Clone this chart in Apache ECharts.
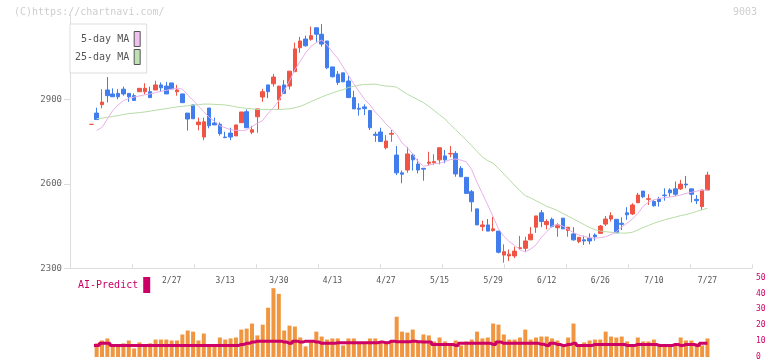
<!DOCTYPE html>
<html>
<head>
<meta charset="utf-8">
<script src="https://cdn.jsdelivr.net/npm/echarts@6/dist/echarts.min.js"></script>
<style>
  html, body { margin: 0; padding: 0; background: #fff; }
  #main { width: 772px; height: 361px; }
</style>
</head>
<body>
<div id="main"></div>
<script>
// daily prices (index 0 = first candle)
const opens = [2811, 2851, 2881, 2933, 2919, 2921, 2936, 2921, 2913, 2927, 2927, 2927, 2933, 2951, 2947, 2958, 2927, 2919, 2851, 2880,
  2810, 2766, 2869, 2816, 2811, 2766, 2780, 2770, 2817, 2856, 2783, 2838, 2908, 2951, 2955, 2898, 2951, 2947, 2998, 3083,
  3114, 3113, 3154, 3131, 3107, 3015, 2989, 2994, 2965, 2906, 2868, 2873, 2860, 2776, 2784, 2728, 2776, 2702, 2639, 2649,
  2702, 2670, 2655, 2673, 2675, 2685, 2699, 2706, 2708, 2655, 2623, 2572, 2511, 2448, 2454, 2434, 2432, 2347, 2344, 2344,
  2370, 2371, 2401, 2446, 2497, 2455, 2474, 2444, 2478, 2434, 2422, 2395, 2401, 2407, 2418, 2424, 2457, 2475, 2474, 2460,
  2497, 2493, 2533, 2574, 2545, 2537, 2546, 2560, 2578, 2582, 2582, 2599, 2582, 2545, 2519, 2578];
const closes = [2811, 2828, 2890, 2913, 2909, 2909, 2919, 2909, 2896, 2939, 2939, 2906, 2951, 2941, 2919, 2937, 2933, 2888, 2830, 2831,
  2819, 2820, 2806, 2809, 2778, 2764, 2766, 2809, 2855, 2799, 2792, 2866, 2927, 2927, 2979, 2947, 2921, 3000, 3079, 3107,
  3090, 3126, 3131, 3096, 3012, 2980, 2960, 2962, 2906, 2866, 2865, 2867, 2799, 2772, 2750, 2752, 2779, 2639, 2634, 2706,
  2685, 2649, 2652, 2677, 2679, 2728, 2685, 2708, 2635, 2625, 2566, 2536, 2454, 2454, 2432, 2440, 2357, 2359, 2350, 2361,
  2373, 2397, 2421, 2486, 2466, 2466, 2448, 2454, 2440, 2446, 2401, 2410, 2397, 2397, 2412, 2450, 2475, 2487, 2426, 2456,
  2490, 2525, 2560, 2554, 2547, 2522, 2537, 2558, 2568, 2563, 2599, 2596, 2563, 2540, 2578, 2631];
const lows = [2811, 2828, 2868, 2889, 2909, 2900, 2913, 2891, 2896, 2927, 2918, 2906, 2933, 2927, 2919, 2937, 2913, 2888, 2789, 2831,
  2790, 2755, 2797, 2809, 2771, 2762, 2755, 2770, 2817, 2799, 2776, 2781, 2891, 2904, 2945, 2864, 2921, 2935, 2998, 3065,
  3087, 3108, 3104, 3087, 3007, 2978, 2951, 2962, 2906, 2866, 2842, 2844, 2791, 2749, 2750, 2722, 2749, 2631, 2602, 2639,
  2647, 2637, 2611, 2664, 2667, 2669, 2673, 2694, 2625, 2625, 2566, 2501, 2454, 2432, 2432, 2430, 2353, 2320, 2326, 2336,
  2365, 2359, 2401, 2426, 2446, 2438, 2445, 2412, 2440, 2412, 2398, 2389, 2383, 2385, 2398, 2424, 2450, 2466, 2426, 2436,
  2472, 2489, 2531, 2549, 2525, 2519, 2519, 2540, 2554, 2557, 2578, 2584, 2534, 2528, 2507, 2578];
const highs = [2811, 2870, 2936, 2979, 2939, 2936, 2945, 2921, 2921, 2939, 2957, 2945, 2966, 2960, 2962, 2958, 2951, 2919, 2851, 2880,
  2835, 2835, 2869, 2835, 2818, 2785, 2799, 2809, 2855, 2864, 2806, 2866, 2937, 2951, 2990, 2947, 2968, 3000, 3101, 3122,
  3126, 3158, 3154, 3167, 3107, 3015, 3000, 2994, 2984, 2930, 2886, 2882, 2860, 2785, 2799, 2773, 2791, 2734, 2647, 2730,
  2708, 2687, 2655, 2714, 2705, 2728, 2720, 2734, 2716, 2663, 2623, 2578, 2511, 2469, 2475, 2483, 2432, 2385, 2367, 2377,
  2415, 2412, 2446, 2486, 2507, 2474, 2480, 2460, 2478, 2446, 2446, 2410, 2416, 2424, 2424, 2454, 2486, 2499, 2474, 2481,
  2517, 2531, 2568, 2574, 2563, 2543, 2554, 2584, 2584, 2608, 2614, 2628, 2582, 2560, 2578, 2643];

// moving averages as drawn (they start on the second candle)
const ma5 = [null, 2790, 2800, 2830, 2860, 2880, 2895, 2903, 2908, 2912, 2916, 2919, 2924, 2928, 2932, 2936, 2939, 2936, 2915, 2897,
  2876, 2856, 2836, 2822, 2806, 2799, 2792, 2790, 2789, 2791, 2803, 2815, 2825, 2850, 2870, 2895, 2930, 2965, 3005, 3035,
  3065, 3088, 3101, 3110, 3093, 3068, 3045, 3015, 2985, 2955, 2927, 2900, 2880, 2855, 2835, 2812, 2795, 2775, 2745, 2728,
  2705, 2678, 2663, 2665, 2672, 2673, 2678, 2686, 2688, 2684, 2678, 2650, 2605, 2565, 2525, 2483, 2440, 2414, 2395, 2382,
  2366, 2358, 2368, 2383, 2410, 2430, 2450, 2455, 2450, 2438, 2427, 2418, 2413, 2409, 2407, 2409, 2412, 2420, 2430, 2447,
  2460, 2475, 2495, 2520, 2535, 2543, 2548, 2551, 2553, 2556, 2560, 2566, 2570, 2574, 2577, 2578];
const ma25 = [null, 2831, 2833, 2836, 2839, 2842, 2846, 2849, 2851, 2853, 2855, 2858, 2861, 2864, 2867, 2870, 2873, 2875, 2877, 2879,
  2881, 2883, 2883, 2882, 2881, 2880, 2877, 2873, 2870, 2868, 2866, 2864, 2864, 2864, 2864, 2864, 2865, 2866, 2870, 2875,
  2883, 2892, 2900, 2908, 2916, 2922, 2929, 2934, 2942, 2946, 2950, 2953, 2953, 2954, 2950, 2947, 2946, 2943, 2930, 2918,
  2908, 2898, 2888, 2875, 2860, 2845, 2830, 2810, 2792, 2774, 2755, 2735, 2715, 2695, 2682, 2673, 2655, 2635, 2615, 2595,
  2575, 2558, 2550, 2540, 2530, 2520, 2513, 2505, 2495, 2485, 2475, 2465, 2455, 2445, 2437, 2432, 2430, 2428, 2426, 2425,
  2425, 2428, 2436, 2445, 2452, 2460, 2466, 2472, 2477, 2482, 2487, 2491, 2496, 2502, 2508, 2513];

// lower panel
const volumes = [null, 8.6, 10.4, 11.7, 7.3, 7.3, 8.6, 10.4, 5.4, 9.2, 7.3, 8.6, 11.0, 11.0, 11.0, 10.4, 10.4, 14.2, 16.7, 16.0,
  10.4, 14.8, 7.3, 7.3, 12.3, 11.0, 11.7, 12.3, 17.3, 17.9, 21.1, 13.6, 20.4, 31.1, 43.4, 39.8, 16.7, 19.8, 19.2, 12.3,
  6.7, 9.8, 16.0, 12.9, 11.0, 11.7, 11.7, 7.3, 11.7, 11.7, 8.6, 8.6, 11.7, 11.7, 9.8, 9.8, 10.4, 25.4, 16.0, 15.4,
  17.3, 9.8, 14.2, 13.6, 9.8, 12.3, 9.8, 8.6, 10.4, 7.3, 9.8, 11.0, 16.0, 11.7, 12.3, 21.1, 20.4, 14.2, 11.0, 11.0,
  12.3, 17.3, 11.0, 12.3, 12.9, 12.9, 11.7, 10.4, 8.0, 12.3, 21.1, 6.7, 9.2, 10.4, 11.0, 11.0, 16.0, 12.9, 12.3, 12.9,
  9.8, 7.3, 12.3, 9.8, 9.8, 11.0, 7.3, 7.3, 7.3, 8.0, 12.3, 10.4, 10.4, 8.6, 7.3, 11.7];
const aiPredict = [null, 7.3, 8.6, 8.6, 7.3, 7.3, 7.3, 7.3, 7.3, 7.3, 7.3, 7.3, 7.3, 7.3, 7.3, 7.3, 7.3, 7.3, 7.3, 7.3,
  7.3, 7.3, 7.3, 7.3, 7.3, 7.3, 7.3, 7.3, 7.9, 8.6, 9.4, 10.0, 10.0, 10.0, 10.0, 10.0, 9.4, 8.6, 10.0, 9.4,
  10.0, 10.0, 9.4, 8.6, 8.6, 8.6, 9.0, 9.0, 9.0, 9.0, 9.0, 9.0, 9.0, 9.0, 9.4, 9.0, 10.0, 9.6, 9.6, 9.6,
  10.0, 9.6, 9.4, 9.4, 7.9, 7.9, 7.9, 7.9, 7.3, 8.6, 8.6, 8.6, 8.6, 8.6, 8.6, 7.9, 9.4, 8.6, 8.6, 8.6,
  8.6, 8.6, 8.6, 8.6, 8.0, 7.3, 8.6, 7.9, 7.3, 7.9, 8.6, 7.3, 7.3, 7.3, 7.9, 7.9, 7.9, 7.9, 7.9, 7.9,
  7.3, 7.3, 7.9, 7.9, 7.9, 7.9, 7.3, 7.3, 7.3, 7.9, 7.3, 7.9, 7.9, 7.3, 8.6, 8.6];

// date labels under the price panel and the candle they sit under
const dateLabels = ['2/27', '3/13', '3/30', '4/13', '4/27', '5/15', '5/29', '6/12', '6/26', '7/10', '7/27'];
const dateIndex = [15, 25, 35, 45, 55, 65, 75, 85, 95, 105, 115];

const FONT = 'DejaVu Sans Mono';
const RED = '#f05444';
const BLUE = '#417ded';
const AI = '#cc0066';
const slotCount = 124; // 116 days + empty room on the right

const categories = [];
for (let i = 0; i < slotCount; i++) categories.push(String(i));
const candles = opens.map((o, i) => [o, closes[i], lows[i], highs[i]]);

const chart = echarts.init(document.getElementById('main'));
chart.setOption({
  animation : false,
  title     : [
    { text: '(C)https://chartnavi.com/', left: 14, top: 7, padding: 0,
      textStyle: { fontFamily: FONT, fontSize: 10, fontWeight: 'normal', color: '#cfcfcf' } },
    { text: '9003', right: 15, top: 7, padding: 0,
      textStyle: { fontFamily: FONT, fontSize: 10, fontWeight: 'normal', color: '#cfcfcf' } },
  ],
  legend: [
    {
      data         : ['5-day MA', '25-day MA'],
      left         : 70,
      top          : 24,
      orient       : 'vertical',
      align        : 'right',
      icon         : 'rect',
      itemWidth    : 6,
      itemHeight   : 15,
      itemGap      : 2,
      padding      : [7, 6, 8, 5],
      backgroundColor: '#fff',
      borderColor  : '#dddddd',
      borderWidth  : 1,
      selectedMode : false,
      itemStyle    : { borderColor: '#555', borderWidth: 1 },
      formatter    : (n) => '{t|' + n + '}',
      textStyle    : { rich: { t: { width: 56, align: 'right', fontFamily: FONT, fontSize: 10, color: '#555' } } },
    },
    {
      data         : ['AI-Predict'],
      left         : 78,
      top          : 277,
      align        : 'right',
      icon         : 'rect',
      itemWidth    : 7,
      itemHeight   : 16,
      padding      : 0,
      selectedMode : false,
      itemStyle    : { borderWidth: 0 },
      textStyle    : { fontFamily: FONT, fontSize: 10, color: AI },
    },
  ],
  grid: [
    { left: 70, right: 20, top: 14.8, bottom: 92.7 },
    { left: 88.6, right: 19, top: 14.8, bottom: 92.7 },
    { left: 88.6, right: 19, top: 277.7, bottom: 3.3 },
  ],
  xAxis: [
    {
      type      : 'value',
      gridIndex : 0,
      min       : 0,
      max       : 11,
      interval  : 1,
      axisLine  : { onZero: false, lineStyle: { color: '#dddddd' } },
      axisTick  : { inside: true, length: 4, lineStyle: { color: '#dddddd' } },
      axisLabel : { show: false },
      splitLine : { show: false },
    },
    {
      type        : 'category',
      gridIndex   : 1,
      data        : categories,
      boundaryGap : true,
      axisLine    : { show: false },
      axisTick    : { show: false },
      axisLabel   : {
        interval   : 0,
        margin     : 9,
        fontFamily : FONT,
        fontSize   : 8,
        color      : '#555',
        formatter  : (v, idx) => {
          const k = dateIndex.indexOf(idx);
          return k >= 0 ? dateLabels[k] : '';
        },
      },
    },
    { type: 'category', gridIndex: 2, data: categories, boundaryGap: true, show: false },
  ],
  yAxis: [
    {
      type      : 'value',
      gridIndex : 0,
      min       : 2300,
      max       : 3200,
      interval  : 300,
      axisLine  : { show: true, lineStyle: { color: '#dddddd' } },
      axisTick  : { show: true, length: 6, lineStyle: { color: '#dddddd' } },
      axisLabel : {
        showMaxLabel : false,
        margin       : 8,
        fontFamily   : FONT,
        fontSize     : 9,
        color        : '#666',
        formatter    : (v) => String(v),
      },
      splitLine : { show: false },
    },
    { type: 'value', gridIndex: 1, min: 2300, max: 3200, show: false },
    {
      type      : 'value',
      gridIndex : 2,
      position  : 'right',
      min       : 0,
      max       : 50,
      interval  : 10,
      axisLine  : { show: false },
      axisTick  : { show: false },
      splitLine : { show: false },
      axisLabel : { margin: 3, fontFamily: FONT, fontSize: 8, color: AI },
    },
  ],
  series: [
    {
      name       : '25-day MA',
      type       : 'line',
      xAxisIndex : 1,
      yAxisIndex : 1,
      data       : ma25,
      symbol     : 'none',
      color      : '#bfe0b2',
      lineStyle  : { width: 1, color: '#b5dca5' },
    },
    {
      name       : '5-day MA',
      type       : 'line',
      xAxisIndex : 1,
      yAxisIndex : 1,
      data       : ma5,
      symbol     : 'none',
      color      : '#f0c0f0',
      lineStyle  : { width: 1, color: '#e8b0e8' },
    },
    {
      name       : 'price',
      type       : 'candlestick',
      xAxisIndex : 1,
      yAxisIndex : 1,
      data       : candles,
      barWidth   : 4,
      itemStyle  : {
        color           : RED,
        color0          : BLUE,
        borderColor     : RED,
        borderColor0    : BLUE,
        borderColorDoji : RED,
        borderWidth     : 1,
      },
    },
    {
      name       : 'volume',
      type       : 'bar',
      xAxisIndex : 2,
      yAxisIndex : 2,
      data       : volumes,
      barWidth   : 4,
      itemStyle  : { color: '#f19640' },
    },
    {
      name       : 'AI-Predict',
      type       : 'line',
      xAxisIndex : 2,
      yAxisIndex : 2,
      data       : aiPredict,
      step       : 'middle',
      symbol     : 'none',
      color      : AI,
      lineStyle  : { width: 3, color: AI },
    },
  ],
});
</script>
</body>
</html>
